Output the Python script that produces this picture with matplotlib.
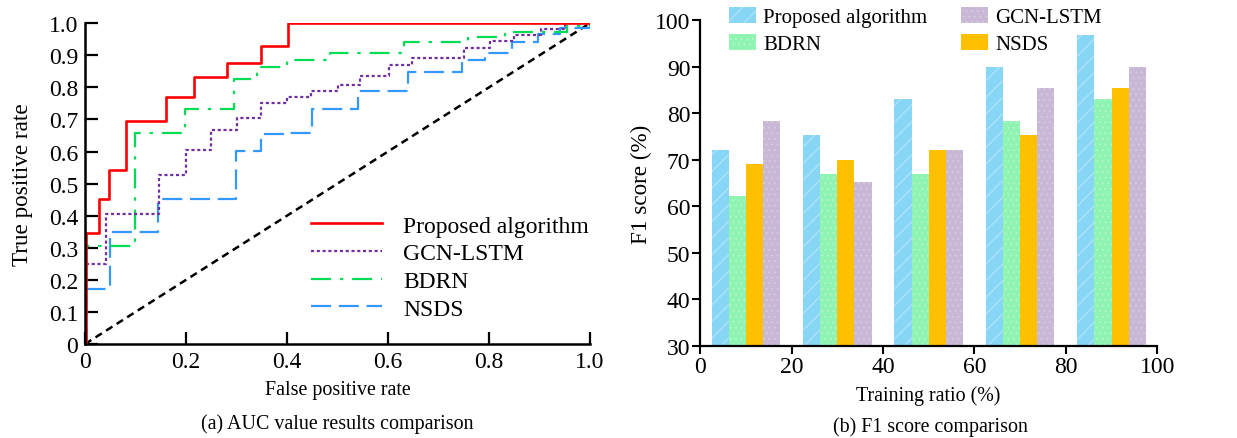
import matplotlib
matplotlib.use("Agg")
import matplotlib.pyplot as plt
import numpy as np

plt.rcParams.update({
    "font.family": ["Liberation Serif", "DejaVu Serif"],
    "font.size": 14.4,
    "axes.spines.top": False,
    "axes.spines.right": False,
    "hatch.linewidth": 0.6,
})

# ROC curves (fpr, tpr step vertices)
prop_fpr = [0, 0.003, 0.028, 0.047, 0.081, 0.161, 0.216, 0.281, 0.348, 0.402, 1.0]
prop_tpr = [0, 0.345, 0.452, 0.542, 0.695, 0.770, 0.831, 0.877, 0.929, 1.0, 1.0]
gcn_fpr = [0, 0.003, 0.042, 0.146, 0.200, 0.250, 0.300, 0.348, 0.400, 0.447, 0.500,
           0.545, 0.602, 0.648, 0.750, 0.802, 0.850, 0.902, 0.950, 1.0]
gcn_tpr = [0, 0.249, 0.405, 0.526, 0.604, 0.667, 0.705, 0.751, 0.770, 0.789, 0.807,
           0.834, 0.869, 0.890, 0.922, 0.945, 0.963, 0.983, 1.0, 1.0]
bdrn_fpr = [0, 0.003, 0.099, 0.199, 0.295, 0.341, 0.400, 0.485, 0.632, 0.759, 0.832, 0.954, 1.0]
bdrn_tpr = [0, 0.304, 0.657, 0.732, 0.826, 0.864, 0.886, 0.907, 0.940, 0.957, 0.973, 0.992, 1.0]
nsds_fpr = [0, 0.003, 0.050, 0.144, 0.299, 0.348, 0.400, 0.449, 0.540, 0.640, 0.746,
            0.792, 0.845, 0.896, 0.941, 1.0]
nsds_tpr = [0, 0.171, 0.348, 0.452, 0.602, 0.654, 0.659, 0.732, 0.789, 0.848, 0.885,
            0.908, 0.940, 0.966, 0.985, 1.0]

# F1 scores
ratios = [10, 30, 50, 70, 90]
f1_prop = [72.1, 75.4, 83.1, 90.0, 96.7]
f1_bdrn = [62.2, 67.0, 67.0, 78.4, 83.1]
f1_nsds = [69.0, 70.0, 72.1, 75.4, 85.3]
f1_gcn = [78.4, 65.1, 72.1, 85.3, 90.0]

fig = plt.figure(figsize=(12.37, 4.39), dpi=100)

# (a) ROC
ax1 = fig.add_axes([0.0687, 0.214, 0.4083, 0.731])
ax1.plot([0, 1], [0, 1], color="black", lw=1.8, ls=(0, (3, 2)))
ax1.plot(nsds_fpr, nsds_tpr, drawstyle="steps-post", color="#3399ff", lw=1.6,
         ls=(0, (9, 3.5)), label="NSDS")
ax1.plot(bdrn_fpr, bdrn_tpr, drawstyle="steps-post", color="#00dd55", lw=1.6,
         ls=(0, (9, 4, 1.5, 4)), label="BDRN")
ax1.plot(gcn_fpr, gcn_tpr, drawstyle="steps-post", color="#7030a0", lw=1.6,
         ls=(0, (1.4, 1.2)), label="GCN-LSTM")
ax1.plot(prop_fpr, prop_tpr, drawstyle="steps-post", color="#ff0000", lw=1.9,
         label="Proposed algorithm")
ax1.set_xlim(0, 1)
ax1.set_ylim(0, 1)
ax1.set_xticks(np.arange(0, 1.01, 0.2), ["0", "0.2", "0.4", "0.6", "0.8", "1.0"])
ax1.set_yticks(np.arange(0, 1.01, 0.1), ["0"] + [f"{v:.1f}" for v in np.arange(0.1, 1.01, 0.1)])
ax1.tick_params(direction="in", length=9, width=1.6, labelsize=17, pad=5)
for s in ("left", "bottom"):
    ax1.spines[s].set_linewidth(1.8)
ax1.set_xlabel("False positive rate", labelpad=6)
ax1.set_ylabel("True positive rate", fontsize=16.7, labelpad=11)
h, l = ax1.get_legend_handles_labels()
ax1.legend(h[::-1], l[::-1], loc="lower right", frameon=False, fontsize=17,
           handlelength=3.0, labelspacing=0.26, handletextpad=0.9,
           bbox_to_anchor=(1.04, 0.01))
fig.text(0.273, 0.035, "(a) AUC value results comparison", ha="center", va="center")

# (b) F1 bars
ax2 = fig.add_axes([0.566, 0.210, 0.3695, 0.742])
x = np.array(ratios, dtype=float)
w = 3.75
b1 = ax2.bar(x - 1.5 * w, f1_prop, w, color="#88d6f6", edgecolor="#bfeafb", lw=0, hatch="//", label="Proposed algorithm")
b2 = ax2.bar(x - 0.5 * w, f1_bdrn, w, color="#8ff3b2", edgecolor="#b5f8cb", lw=0, hatch="...", label="BDRN")
b3 = ax2.bar(x + 0.5 * w, f1_nsds, w, color="#ffc000", edgecolor="#ffc000", lw=0, label="NSDS")
b4 = ax2.bar(x + 1.5 * w, f1_gcn, w, color="#c8b8d6", edgecolor="#d8cce3", lw=0, hatch="...", label="GCN-LSTM")
ax2.set_xlim(0, 100)
ax2.set_ylim(30, 100)
ax2.set_xticks(range(0, 101, 20))
ax2.set_yticks(range(30, 101, 10))
ax2.tick_params(direction="out", length=6, width=1.5, labelsize=17, pad=1)
for s in ("left", "bottom"):
    ax2.spines[s].set_linewidth(1.6)
ax2.set_xlabel("Training ratio (%)", labelpad=6)
ax2.set_ylabel("F1 score (%)", fontsize=16.7, labelpad=2)
fig.legend([b1, b2, b4, b3], ["Proposed algorithm", "BDRN", "GCN-LSTM", "NSDS"],
           ncol=2, frameon=False, fontsize=15, handlelength=1.3, handleheight=0.8,
           columnspacing=1.6, labelspacing=0.35, handletextpad=0.35,
           loc="upper left", bbox_to_anchor=(0.574, 1.025))
fig.text(0.752, 0.027, "(b) F1 score comparison", ha="center", va="center")

fig.savefig("out.png", dpi=100)
